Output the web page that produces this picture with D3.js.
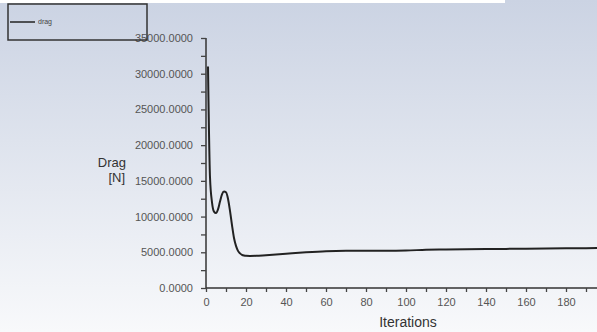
<!DOCTYPE html>
<html>
<head>
<meta charset="utf-8">
<script src="https://cdn.jsdelivr.net/npm/d3@7"></script>
<style>
  body { margin: 0; padding: 0; overflow: hidden; }
  svg { display: block; }
</style>
</head>
<body>
<div id="chart"></div>
<script>
// drag residual history
var iterations = [1, 2, 3, 4, 5, 6, 7, 8, 9, 10, 11, 12, 13, 14, 15, 16, 17, 18, 19, 20,
  22, 25, 30, 40, 50, 60, 70, 80, 90, 100, 110, 120, 140, 160, 180, 200];
var dragValues = [31000, 15500, 12000, 10700, 10500, 11000, 12100, 13100, 13500, 13400,
  12500, 10800, 8800, 7000, 5900, 5200, 4850, 4650, 4550, 4500,
  4480, 4500, 4600, 4800, 5000, 5150, 5200, 5200, 5220, 5250,
  5350, 5400, 5450, 5500, 5550, 5600];
var yTicks = [0, 5000, 10000, 15000, 20000, 25000, 30000, 35000];
var xTicks = [0, 20, 40, 60, 80, 100, 120, 140, 160, 180, 200];
var seriesName = "drag";

var width = 597, height = 332;

var svg = d3.select("#chart").append("svg")
  .attr("width", width)
  .attr("height", height);

// background gradient
var defs = svg.append("defs");
var grad = defs.append("linearGradient")
  .attr("id", "bg")
  .attr("x1", 0).attr("y1", 0)
  .attr("x2", 0).attr("y2", 1);
grad.append("stop").attr("offset", "0%").attr("stop-color", "#cbd3e3");
grad.append("stop").attr("offset", "100%").attr("stop-color", "#f8f9fb");

svg.append("rect")
  .attr("width", width)
  .attr("height", height)
  .attr("fill", "url(#bg)");

// white strip at the very top
svg.append("rect")
  .attr("x", 0).attr("y", 0)
  .attr("width", 505).attr("height", 3)
  .attr("fill", "#ffffff");

var x = d3.scaleLinear().domain([0, 200]).range([206, 606]);
var y = d3.scaleLinear().domain([0, 35000]).range([288, 38]);

defs.append("clipPath").attr("id", "plotClip")
  .append("rect")
  .attr("x", 206).attr("y", 30)
  .attr("width", width - 206).attr("height", 260);

// y axis: major ticks with labels, minor ticks in between
var yAxis = d3.axisLeft(y)
  .tickValues(d3.range(0, 35001, 2500))
  .tickSize(5)
  .tickPadding(8)
  .tickFormat(function(d) { return yTicks.indexOf(d) >= 0 ? d3.format(".4f")(d) : ""; });

var gy = svg.append("g")
  .attr("transform", "translate(206,0)")
  .call(yAxis);

// x axis
var xAxis = d3.axisBottom(x)
  .tickValues(d3.range(0, 201, 10))
  .tickSize(4)
  .tickPadding(6)
  .tickFormat(function(d) { return xTicks.indexOf(d) >= 0 ? d : ""; });

var gx = svg.append("g")
  .attr("transform", "translate(0,288)")
  .call(xAxis);

[gx, gy].forEach(function(g) {
  g.select(".domain").attr("stroke", "#333").attr("stroke-width", 1.5);
  g.selectAll(".tick line").attr("stroke", "#444").attr("stroke-width", 1.3);
  g.selectAll(".tick text")
    .attr("fill", "#555")
    .style("font-family", "Liberation Sans, Arial, sans-serif")
    .style("font-size", "11px");
});
gy.select(".domain").attr("d", "M0,288V38");
gx.select(".domain").attr("d", "M206,0H" + width);

// drag curve
var line = d3.line()
  .x(function(d, i) { return x(iterations[i]); })
  .y(function(d) { return y(d); })
  .curve(d3.curveMonotoneX);

svg.append("path")
  .datum(dragValues)
  .attr("clip-path", "url(#plotClip)")
  .attr("fill", "none")
  .attr("stroke", "#222")
  .attr("stroke-width", 2)
  .attr("d", line);

// axis titles
svg.append("text")
  .attr("x", 126).attr("y", 167)
  .attr("text-anchor", "end")
  .attr("fill", "#333")
  .style("font-family", "Liberation Sans, Arial, sans-serif")
  .style("font-size", "13px")
  .text("Drag");
svg.append("text")
  .attr("x", 125).attr("y", 182)
  .attr("text-anchor", "end")
  .attr("fill", "#333")
  .style("font-family", "Liberation Sans, Arial, sans-serif")
  .style("font-size", "13px")
  .text("[N]");

svg.append("text")
  .attr("x", 408).attr("y", 327)
  .attr("text-anchor", "middle")
  .attr("fill", "#333")
  .style("font-family", "Liberation Sans, Arial, sans-serif")
  .style("font-size", "14px")
  .text("Iterations");

// legend box
var legend = svg.append("g");
legend.append("rect")
  .attr("x", 8).attr("y", 4)
  .attr("width", 139).attr("height", 36)
  .attr("fill", "none")
  .attr("stroke", "#333")
  .attr("stroke-width", 1.5);
legend.append("line")
  .attr("x1", 10).attr("x2", 35)
  .attr("y1", 22).attr("y2", 22)
  .attr("stroke", "#222")
  .attr("stroke-width", 1.5);
legend.append("text")
  .attr("x", 38).attr("y", 24)
  .attr("fill", "#444")
  .style("font-family", "Liberation Sans, Arial, sans-serif")
  .style("font-size", "7px")
  .text(seriesName);
</script>
</body>
</html>
